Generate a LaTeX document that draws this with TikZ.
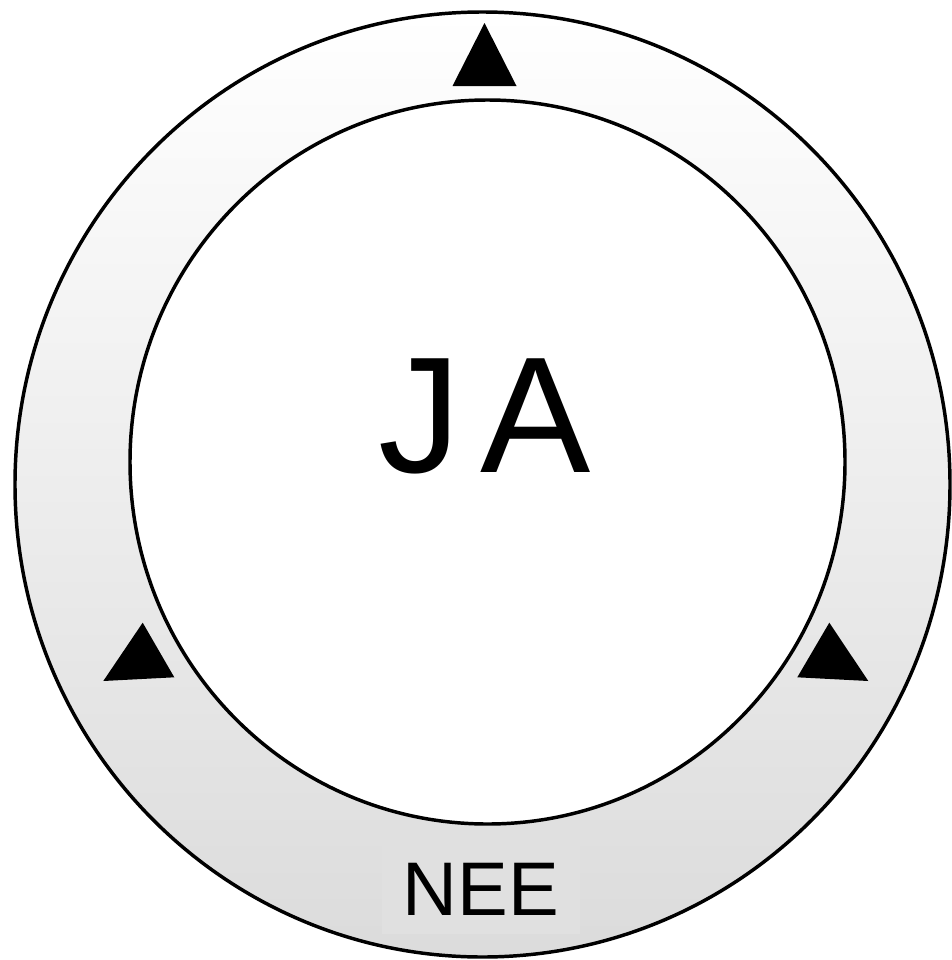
\documentclass[tikz,border=0pt]{standalone}
\usepackage{fontspec}
\setmainfont{Liberation Sans}
\begin{document}
\begin{tikzpicture}[x=0.75pt,y=-0.75pt,
  ringline/.style={draw=black,line width=2.6pt},
  marker/.style={fill=black,draw=none},
  bigtext/.style={font=\fontsize{124}{130}\selectfont,inner sep=0pt},
  labeltext/.style={font=\fontsize{57}{62}\selectfont,fill=black!12,inner xsep=16pt,inner ysep=14pt}]
\useasboundingbox (0,0) rectangle (951,960);
% outer ring with gradient
\path[ringline,top color=white,bottom color=black!14] (482.5,484.5) ellipse [x radius=467.5,y radius=472.5];
% inner disc
\path[ringline,fill=white] (487.5,462) ellipse [x radius=357.5,y radius=362];
% markers
\coordinate (ta) at (484.5,23);
\coordinate (tb) at (452.5,86);
\coordinate (tc) at (516.5,86);
\fill[marker] (ta) -- (tb) -- (tc) -- cycle;
\coordinate (la) at (142.7,622.7);
\coordinate (lb) at (103.3,681);
\coordinate (lc) at (174.3,677.3);
\fill[marker] (la) -- (lb) -- (lc) -- cycle;
\coordinate (ra) at (829.3,622.7);
\coordinate (rb) at (797.3,677.3);
\coordinate (rc) at (868.3,681);
\fill[marker] (ra) -- (rb) -- (rc) -- cycle;
% texts
\node[bigtext] (ja) at (485,416) {J\hspace{0.12em}A};
\node[labeltext] (nee) at (481,889) {NEE};
\end{tikzpicture}
\end{document}
